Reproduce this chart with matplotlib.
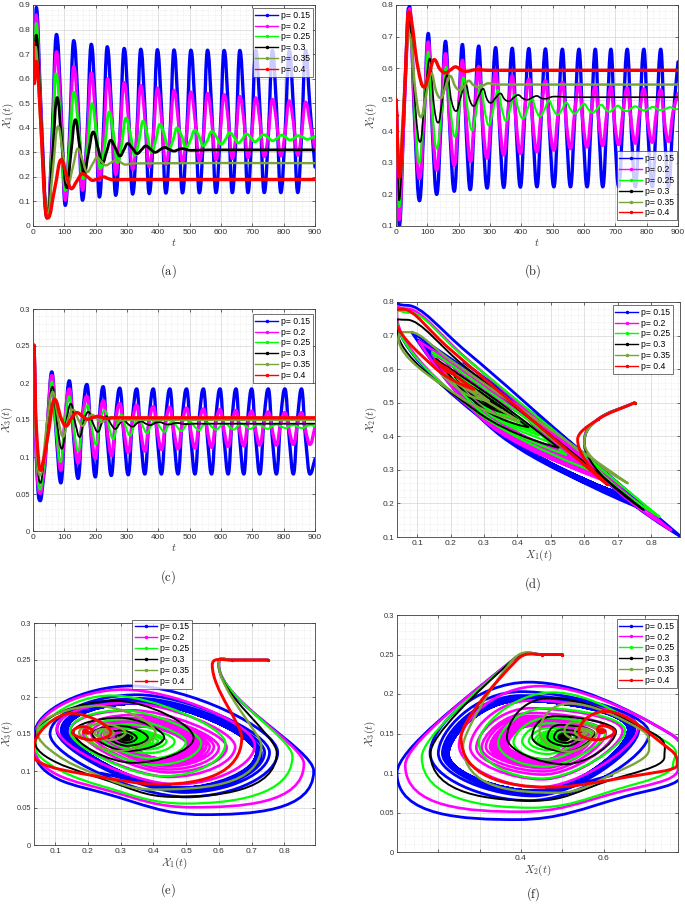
import matplotlib
matplotlib.use("Agg")
import matplotlib.pyplot as plt
from matplotlib.path import Path
from matplotlib.patches import PathPatch
from matplotlib.lines import Line2D
from matplotlib.ticker import AutoMinorLocator, FixedLocator, FormatStrFormatter

plt.rcParams['mathtext.fontset'] = 'cm'
plt.rcParams['font.family'] = ['Liberation Sans', 'DejaVu Sans']

labels = ['p= 0.15', 'p= 0.2', 'p= 0.25', 'p= 0.3', 'p= 0.35', 'p= 0.4']
colors = ['#0000FF', '#FF00FF', '#00FF00', '#000000', '#77A538', '#FF0000']

t_015 = [0, 2, 4, 10.6, 23, 33, 40, 47, 60,
         75, 89, 103, 116, 130, 144, 158, 172, 186, 199, 212, 224, 237, 250, 264, 277,
         291, 304, 318, 331, 344, 357, 371, 384, 397, 410, 424, 437, 450, 463, 477, 490,
         504, 517, 531, 544, 557, 570, 584, 597, 610, 623, 636, 648, 660, 673, 686, 698,
         711, 724, 738, 751, 764, 777, 791, 804, 818, 831, 845, 857, 870, 884, 900]
x1_015 = [0.75, 0.64, 0.60, 0.89, 0.55, 0.25, 0.07, 0.037, 0.334,
          0.78, 0.50, 0.084, 0.352, 0.755, 0.495, 0.105, 0.359, 0.74, 0.491, 0.118, 0.363,
          0.73, 0.488, 0.125, 0.364, 0.723, 0.486, 0.13, 0.366, 0.72, 0.485, 0.132, 0.367,
          0.718, 0.484, 0.134, 0.367, 0.717, 0.484, 0.135, 0.367, 0.716, 0.484, 0.135, 0.367,
          0.716, 0.484, 0.136, 0.367, 0.715, 0.484, 0.136, 0.367, 0.715, 0.484, 0.136, 0.367,
          0.715, 0.484, 0.136, 0.367, 0.715, 0.484, 0.136, 0.367, 0.715, 0.484, 0.136, 0.367,
          0.715, 0.484, 0.24]
x2_015 = [0.5, 0.45, 0.38, 0.10, 0.39, 0.65, 0.79, 0.76, 0.42,
          0.18, 0.42, 0.71, 0.40, 0.20, 0.43, 0.685, 0.40, 0.21, 0.435, 0.675, 0.40,
          0.215, 0.435, 0.67, 0.40, 0.22, 0.435, 0.665, 0.40, 0.222, 0.435, 0.663, 0.40,
          0.223, 0.435, 0.662, 0.40, 0.224, 0.435, 0.661, 0.40, 0.224, 0.435, 0.66, 0.40,
          0.224, 0.435, 0.66, 0.40, 0.224, 0.435, 0.66, 0.40, 0.224, 0.435, 0.66, 0.40,
          0.224, 0.435, 0.66, 0.40, 0.224, 0.435, 0.66, 0.40, 0.224, 0.435, 0.66, 0.40,
          0.224, 0.435, 0.62]
x3_015 = [0.25, 0.25, 0.243, 0.10, 0.041, 0.07, 0.10, 0.15, 0.215,
          0.125, 0.065, 0.15, 0.203, 0.125, 0.071, 0.155, 0.198, 0.125, 0.073, 0.155, 0.195,
          0.124, 0.075, 0.155, 0.193, 0.124, 0.076, 0.155, 0.192, 0.124, 0.077, 0.155, 0.192,
          0.124, 0.077, 0.155, 0.192, 0.124, 0.077, 0.155, 0.192, 0.124, 0.077, 0.155, 0.192,
          0.124, 0.077, 0.155, 0.192, 0.124, 0.077, 0.155, 0.192, 0.124, 0.077, 0.155, 0.192,
          0.124, 0.077, 0.155, 0.192, 0.124, 0.077, 0.155, 0.192, 0.124, 0.077, 0.155, 0.192,
          0.124, 0.077, 0.097]

t_02 = [0, 2, 4, 10, 23, 33, 40, 47, 60,
        75, 89, 103, 116, 130, 144, 158, 172, 186, 199, 212, 225, 238, 251, 264, 277,
        291, 304, 318, 331, 344, 357, 371, 384, 397, 410, 424, 437, 450, 463, 477, 490,
        504, 517, 531, 544, 557, 570, 584, 597, 610, 623, 636, 648, 660, 673, 686, 698,
        711, 724, 738, 751, 764, 777, 791, 804, 818, 831, 845, 857, 870, 884, 900]
x1_02 = [0.75, 0.64, 0.60, 0.86, 0.52, 0.25, 0.07, 0.04, 0.308,
         0.71, 0.468, 0.105, 0.323, 0.65, 0.448, 0.145, 0.337, 0.624, 0.448, 0.185, 0.351,
         0.60, 0.444, 0.21, 0.36, 0.585, 0.443, 0.23, 0.367, 0.572, 0.439, 0.24, 0.369,
         0.562, 0.437, 0.25, 0.371, 0.553, 0.435, 0.258, 0.373, 0.546, 0.433, 0.264, 0.374,
         0.54, 0.432, 0.27, 0.376, 0.535, 0.431, 0.274, 0.376, 0.528, 0.428, 0.278, 0.376,
         0.522, 0.426, 0.282, 0.376, 0.516, 0.424, 0.285, 0.375, 0.51, 0.421, 0.288, 0.375,
         0.505, 0.419, 0.31]
x2_02 = [0.5, 0.45, 0.38, 0.12, 0.40, 0.63, 0.78, 0.76, 0.446,
         0.25, 0.445, 0.683, 0.428, 0.277, 0.452, 0.646, 0.423, 0.292, 0.453, 0.625, 0.424,
         0.305, 0.454, 0.605, 0.422, 0.315, 0.454, 0.59, 0.423, 0.325, 0.455, 0.575, 0.42,
         0.33, 0.455, 0.565, 0.42, 0.335, 0.456, 0.56, 0.421, 0.34, 0.456, 0.555, 0.422,
         0.345, 0.457, 0.55, 0.423, 0.35, 0.457, 0.545, 0.424, 0.355, 0.458, 0.54, 0.424,
         0.358, 0.458, 0.537, 0.426, 0.362, 0.459, 0.534, 0.426, 0.365, 0.459, 0.531, 0.427,
         0.368, 0.46, 0.52]
x3_02 = [0.25, 0.25, 0.243, 0.11, 0.051, 0.075, 0.105, 0.15, 0.21,
         0.135, 0.082, 0.157, 0.192, 0.133, 0.092, 0.153, 0.182, 0.132, 0.098, 0.151, 0.176,
         0.132, 0.102, 0.15, 0.172, 0.133, 0.106, 0.15, 0.17, 0.133, 0.108, 0.149, 0.168,
         0.134, 0.11, 0.149, 0.167, 0.134, 0.111, 0.148, 0.166, 0.134, 0.112, 0.148, 0.165,
         0.134, 0.113, 0.148, 0.164, 0.135, 0.114, 0.147, 0.163, 0.135, 0.115, 0.147, 0.162,
         0.135, 0.116, 0.147, 0.161, 0.135, 0.116, 0.146, 0.16, 0.135, 0.117, 0.146, 0.16,
         0.135, 0.117, 0.14]

t_025 = [0, 2, 4, 10, 23, 33, 40, 47, 60,
         73, 88, 103, 116, 130, 145, 160, 174, 188, 201, 215, 229, 243, 256, 270, 283,
         296, 310, 325, 338, 351, 364, 378, 391, 405, 419, 433, 446, 460, 474, 488, 502,
         516, 530, 543, 557, 570, 585, 600, 614, 628, 641, 655, 668, 681, 694, 708, 721,
         735, 749, 764, 778, 793, 806, 820, 833, 846, 860, 875, 888, 900]
x1_025 = [0.75, 0.64, 0.60, 0.825, 0.50, 0.24, 0.08, 0.04, 0.272,
          0.62, 0.43, 0.145, 0.305, 0.546, 0.405, 0.193, 0.315, 0.499, 0.393, 0.234, 0.326,
          0.465, 0.382, 0.258, 0.331, 0.44, 0.379, 0.288, 0.344, 0.427, 0.376, 0.30, 0.346,
          0.414, 0.372, 0.31, 0.346, 0.40, 0.368, 0.32, 0.348, 0.39, 0.365, 0.327, 0.35,
          0.385, 0.364, 0.333, 0.352, 0.38, 0.363, 0.338, 0.353, 0.375, 0.362, 0.343, 0.355,
          0.372, 0.362, 0.347, 0.356, 0.37, 0.362, 0.35, 0.357, 0.368, 0.362, 0.353, 0.358,
          0.365]
x2_025 = [0.5, 0.45, 0.38, 0.16, 0.425, 0.637, 0.768, 0.75, 0.477,
          0.298, 0.45, 0.652, 0.4615, 0.345, 0.456, 0.604, 0.466, 0.382, 0.462, 0.57, 0.4665,
          0.403, 0.464, 0.546, 0.467, 0.419, 0.466, 0.53, 0.47, 0.433, 0.468, 0.515, 0.4685,
          0.44, 0.468, 0.505, 0.469, 0.447, 0.469, 0.497, 0.469, 0.452, 0.469, 0.491, 0.4693,
          0.456, 0.47, 0.487, 0.4696, 0.459, 0.47, 0.484, 0.4704, 0.462, 0.4705, 0.481, 0.4705,
          0.464, 0.471, 0.479, 0.4709, 0.466, 0.471, 0.477, 0.4708, 0.467, 0.471, 0.476, 0.471,
          0.47]
x3_025 = [0.25, 0.25, 0.243, 0.12, 0.056, 0.08, 0.11, 0.14, 0.202,
          0.138, 0.093, 0.1535, 0.182, 0.138, 0.108, 0.15, 0.17, 0.139, 0.117, 0.148, 0.163,
          0.14, 0.124, 0.1465, 0.157, 0.1405, 0.129, 0.1455, 0.153, 0.141, 0.132, 0.144, 0.15,
          0.1405, 0.134, 0.1435, 0.148, 0.1405, 0.135, 0.143, 0.147, 0.141, 0.136, 0.143, 0.146,
          0.141, 0.137, 0.1425, 0.145, 0.1405, 0.137, 0.1425, 0.145, 0.141, 0.138, 0.142, 0.144,
          0.1405, 0.138, 0.142, 0.144, 0.141, 0.139, 0.142, 0.143, 0.1405, 0.139, 0.142, 0.143,
          0.141]

t_03 = [0, 2, 4, 10, 24, 33, 40, 47, 62,
        77, 92, 108, 121, 135, 149, 163, 177, 192, 207, 222, 235, 248, 263, 278, 290,
        302, 318, 333, 346, 360, 375, 390, 405, 420, 435, 450, 462,
        475, 490, 505, 560, 900]
x1_03 = [0.75, 0.64, 0.60, 0.777, 0.46, 0.24, 0.07, 0.04, 0.28,
         0.523, 0.34, 0.156, 0.295, 0.433, 0.323, 0.213, 0.298, 0.383, 0.32, 0.257, 0.303,
         0.349, 0.317, 0.285, 0.31, 0.336, 0.315, 0.295, 0.31, 0.326, 0.313, 0.30, 0.31,
         0.32, 0.312, 0.305, 0.31, 0.315, 0.311, 0.308, 0.31, 0.31]
x2_03 = [0.5, 0.45, 0.38, 0.181, 0.435, 0.61, 0.747, 0.72, 0.473,
         0.366, 0.505, 0.63, 0.484, 0.427, 0.507, 0.578, 0.496, 0.464, 0.51, 0.551, 0.50,
         0.48, 0.509, 0.535, 0.5025, 0.49, 0.506, 0.52, 0.502, 0.495, 0.506, 0.515, 0.504,
         0.50, 0.507, 0.512, 0.5055, 0.503, 0.507, 0.51, 0.508, 0.508]
x3_03 = [0.25, 0.25, 0.243, 0.125, 0.065, 0.09, 0.12, 0.15, 0.195,
         0.145, 0.111, 0.1525, 0.172, 0.1455, 0.127, 0.15, 0.161, 0.145, 0.134, 0.148, 0.155,
         0.145, 0.138, 0.146, 0.15, 0.145, 0.141, 0.146, 0.148, 0.145, 0.143, 0.146, 0.147,
         0.145, 0.144, 0.1455, 0.146, 0.145, 0.1445, 0.145, 0.145, 0.145]

t_035 = [0, 2, 4, 8, 24, 33, 40, 47, 63,
         80, 96, 112, 128, 143, 158, 173, 189, 205, 218, 232, 248,
         265, 280, 295, 320, 900]
x1_035 = [0.75, 0.64, 0.60, 0.73, 0.40, 0.20, 0.08, 0.045, 0.225,
          0.406, 0.29, 0.173, 0.244, 0.315, 0.268, 0.22, 0.25, 0.279, 0.263, 0.247, 0.257,
          0.268, 0.259, 0.25, 0.255, 0.256]
x2_035 = [0.5, 0.45, 0.38, 0.26, 0.488, 0.627, 0.71, 0.69, 0.519,
          0.445, 0.515, 0.585, 0.527, 0.505, 0.54, 0.575, 0.5425, 0.53, 0.545, 0.56, 0.5456,
          0.54, 0.546, 0.552, 0.548, 0.548]
x3_035 = [0.25, 0.25, 0.243, 0.135, 0.075, 0.10, 0.13, 0.155, 0.188,
          0.152, 0.127, 0.152, 0.164, 0.152, 0.142, 0.151, 0.157, 0.151, 0.147, 0.151, 0.154,
          0.15, 0.149, 0.15, 0.15, 0.15]

t_04 = [0, 2, 4, 10, 25, 33, 40, 48, 69,
        90, 106, 122, 140, 158, 174, 190, 208,
        225, 240, 255, 300, 900]
x1_04 = [0.75, 0.64, 0.58, 0.67, 0.42, 0.20, 0.06, 0.033, 0.15,
         0.27, 0.211, 0.152, 0.183, 0.213, 0.20, 0.186, 0.193,
         0.20, 0.193, 0.188, 0.189, 0.189]
x2_04 = [0.5, 0.45, 0.39, 0.255, 0.469, 0.658, 0.778, 0.76, 0.607,
         0.54, 0.5835, 0.627, 0.597, 0.585, 0.5945, 0.604, 0.594,
         0.59, 0.5925, 0.595, 0.593, 0.593]
x3_04 = [0.25, 0.25, 0.243, 0.145, 0.082, 0.095, 0.11, 0.13, 0.178,
         0.152, 0.142, 0.152, 0.16, 0.155, 0.151, 0.153, 0.155,
         0.153, 0.152, 0.153, 0.153, 0.153]

series = [(t_015, x1_015, x2_015, x3_015), (t_02, x1_02, x2_02, x3_02),
          (t_025, x1_025, x2_025, x3_025), (t_03, x1_03, x2_03, x3_03),
          (t_035, x1_035, x2_035, x3_035), (t_04, x1_04, x2_04, x3_04)]

time_ticks = [0, 100, 200, 300, 400, 500, 600, 700, 800, 900]

# ---------------- drawing helpers ----------------
TENSION = 0.42


def slopes(u, v):
    n = len(u)
    out = []
    for i in range(n):
        if i == 0:
            out.append((v[1] - v[0]) / (u[1] - u[0]))
        elif i == n - 1:
            out.append((v[-1] - v[-2]) / (u[-1] - u[-2]))
        elif (v[i] - v[i - 1]) * (v[i + 1] - v[i]) <= 0:
            out.append(0.0)          # turning point of this coordinate: flat tangent
        else:
            out.append((v[i + 1] - v[i - 1]) / (u[i + 1] - u[i - 1]))
    return out


def curve(ax, t, xs, ys, color, lw, z):
    mx = slopes(t, xs)
    my = slopes(t, ys)
    verts = [(xs[0], ys[0])]
    codes = [Path.MOVETO]
    for i in range(len(t) - 1):
        h = (t[i + 1] - t[i]) * TENSION
        verts += [(xs[i] + mx[i] * h, ys[i] + my[i] * h),
                  (xs[i + 1] - mx[i + 1] * h, ys[i + 1] - my[i + 1] * h),
                  (xs[i + 1], ys[i + 1])]
        codes += [Path.CURVE4] * 3
    ax.add_patch(PathPatch(Path(verts, codes), facecolor='none', edgecolor=color,
                           lw=lw, zorder=z, capstyle='round', joinstyle='round'))
    ax.plot(xs[:2], ys[:2], '.', color=color, ms=2.5, zorder=z)


def style(ax, xlim, ylim, xticks, yticks, xlabels=None, ysize=6.0):
    ax.set_xlim(*xlim)
    ax.set_ylim(*ylim)
    ax.xaxis.set_major_locator(FixedLocator(xticks))
    ax.yaxis.set_major_locator(FixedLocator(yticks))
    if xlabels is not None:
        ax.set_xticklabels(xlabels)
    else:
        ax.xaxis.set_major_formatter(FormatStrFormatter('%g'))
    ax.yaxis.set_major_formatter(FormatStrFormatter('%g'))
    ax.xaxis.set_minor_locator(AutoMinorLocator(5))
    ax.yaxis.set_minor_locator(AutoMinorLocator(5))
    ax.grid(True, which='major', color='#d4d4d4', lw=0.5, ls='-')
    ax.grid(True, which='minor', color='#dcdcdc', lw=0.4, ls=':')
    ax.set_axisbelow(True)
    ax.tick_params(which='major', direction='in', length=2.5, width=0.5, top=True, right=True,
                   labelsize=6.0, colors='#333333', pad=2.0)
    ax.tick_params(axis='y', which='major', labelsize=ysize)
    ax.tick_params(which='minor', direction='in', length=0, top=True, right=True)
    for s in ax.spines.values():
        s.set_linewidth(0.6)
        s.set_color('#404040')


def legend(ax, loc, anchor):
    handles = [Line2D([0], [0], color=c, lw=1.0, marker='.', ms=3) for c in colors]
    lg = ax.legend(handles, labels, loc=loc, bbox_to_anchor=anchor, borderaxespad=0,
                   fontsize=6.2, frameon=True, fancybox=False, edgecolor='#333333',
                   borderpad=0.3, labelspacing=0.22, handlelength=2.6, handletextpad=0.4)
    lg.get_frame().set_linewidth(0.6)
    lg.set_zorder(20)


fig = plt.figure(figsize=(6.85, 9.05), dpi=100)
W, H = 685.0, 905.0


def axes_px(x0, y0, x1, y1):
    return fig.add_axes([x0 / W, 1 - y1 / H, (x1 - x0) / W, (y1 - y0) / H])


axA = axes_px(33, 5, 315, 226)
axB = axes_px(396, 5, 678, 226)
axC = axes_px(33, 309, 315, 531)
axD = axes_px(397, 302, 680, 537)
axE = axes_px(34, 623, 315, 845)
axF = axes_px(397, 615, 678, 852)

lw_a = [2.4, 2.2, 2.0, 2.0, 1.7, 2.4]
lw_b = [2.4, 2.4, 1.5, 1.2, 1.8, 2.4]
lw_c = [2.4, 2.4, 1.5, 1.3, 1.6, 2.4]
lw_p = [2.0, 1.9, 1.6, 1.4, 1.7, 2.1]

for k, (t, x1, x2, x3) in enumerate(series):
    c = colors[k]
    curve(axA, t, t, x1, c, lw_a[k], 3 + k)
    curve(axB, t, t, x2, c, lw_b[k], 3 + k)
    curve(axC, t, t, x3, c, lw_c[k], 3 + k)
    curve(axD, t, x1, x2, c, lw_p[k], 3 + k)
    curve(axE, t, x1, x3, c, lw_p[k], 3 + k)
    curve(axF, t, x2, x3, c, lw_p[k], 3 + k)

style(axA, (0, 900), (0, 0.9), time_ticks, [0, 0.1, 0.2, 0.3, 0.4, 0.5, 0.6, 0.7, 0.8, 0.9])
style(axB, (0, 900), (0.1, 0.8), time_ticks, [0.1, 0.2, 0.3, 0.4, 0.5, 0.6, 0.7, 0.8])
style(axC, (0, 900), (0, 0.3), time_ticks, [0, 0.05, 0.1, 0.15, 0.2, 0.25, 0.3], ysize=5.4)
style(axD, (0.04, 0.886), (0.1, 0.8), [0.1, 0.2, 0.3, 0.4, 0.5, 0.6, 0.7, 0.8],
      [0.1, 0.2, 0.3, 0.4, 0.5, 0.6, 0.7, 0.8])
style(axE, (0.035, 0.894), (0, 0.3), [0.1, 0.2, 0.3, 0.4, 0.5, 0.6, 0.7, 0.8],
      [0, 0.05, 0.1, 0.15, 0.2, 0.25, 0.3], ysize=5.4)
style(axF, (0.10, 0.78), (0, 0.3), [0.2, 0.3, 0.4, 0.5, 0.6, 0.7],
      [0, 0.05, 0.1, 0.15, 0.2, 0.25, 0.3], xlabels=['', '', '0.4', '', '0.6', ''], ysize=5.4)

lab_kw = dict(fontsize=8.0, color='#404040')
for ax in (axA, axB, axC):
    ax.set_xlabel(r'$t$', labelpad=1, **lab_kw)
axA.set_ylabel(r'$\mathcal{X}_1(t)$', **lab_kw)
axB.set_ylabel(r'$\mathcal{X}_2(t)$', **lab_kw)
axC.set_ylabel(r'$\mathcal{X}_3(t)$', **lab_kw)
axD.set_ylabel(r'$\mathcal{X}_2(t)$', **lab_kw)
axD.set_xlabel(r'$X_1(t)$', labelpad=1, **lab_kw)
axE.set_ylabel(r'$\mathcal{X}_3(t)$', **lab_kw)
axE.set_xlabel(r'$\mathcal{X}_1(t)$', labelpad=1, **lab_kw)
axF.set_ylabel(r'$\mathcal{X}_3(t)$', **lab_kw)
axF.set_xlabel(r'$X_2(t)$', labelpad=1, **lab_kw)

for ax, fx in [(axA, -0.062), (axB, -0.06), (axC, -0.064), (axD, -0.062),
               (axE, -0.068), (axF, -0.068)]:
    ax.yaxis.set_label_coords(fx, 0.5)

legend(axA, 'upper right', (0.993, 0.986))
legend(axB, 'lower right', (0.996, 0.027))
legend(axC, 'upper right', (0.993, 0.977))
legend(axD, 'upper right', (0.975, 0.987))
legend(axE, 'upper left', (0.349, 1.014))
legend(axF, 'upper right', (0.996, 0.983))

for txt, x, y in [('(a)', 168, 271), ('(b)', 533, 271), ('(c)', 168, 577),
                  ('(d)', 533, 584), ('(e)', 168, 890), ('(f)', 533, 894)]:
    fig.text(x / W, 1 - y / H, r'$\mathrm{' + txt + '}$', ha='center', va='center',
             fontsize=9, color='#222222')

fig.savefig('out.png', dpi=100)
